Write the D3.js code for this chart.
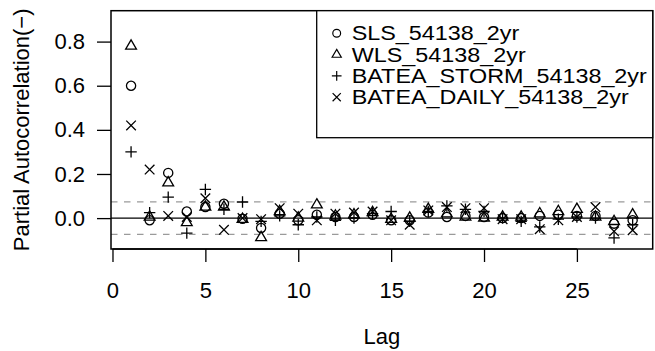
<!DOCTYPE html>
<html>
<head>
<meta charset="utf-8">
<script src="https://cdn.jsdelivr.net/npm/d3@7"></script>
<style>
  body { margin: 0; background: #fff; }
  svg text { font-family: "Liberation Sans", Arial, Helvetica, sans-serif; fill: #000; }
</style>
</head>
<body>
<div id="chart"></div>
<script>
// partial autocorrelation by lag, one array per series
const lags = [1, 2, 3, 4, 5, 6, 7, 8, 9, 10, 11, 12, 13, 14, 15, 16, 17, 18, 19, 20, 21, 22, 23, 24, 25, 26, 27, 28];
const sls = [0.60, -0.01, 0.205, 0.03, 0.05, 0.065, -0.003, -0.045, 0.02, -0.01, 0.015, 0.005, 0.005, 0.015,
  -0.01, -0.01, 0.025, 0.005, 0.01, 0.005, 0.0, 0.0, 0.01, 0.015, 0.01, 0.01, -0.025, -0.01];
const wls = [0.78, 0.005, 0.16, -0.02, 0.05, 0.05, -0.005, -0.088, 0.03, 0.0, 0.06, 0.01, 0.015, 0.025,
  -0.005, 0.0, 0.04, 0.02, 0.005, 0.0, 0.005, 0.005, 0.02, 0.03, 0.04, 0.005, -0.015, 0.015];
const bateaStorm = [0.30, 0.025, 0.095, -0.068, 0.13, 0.04, 0.073, -0.015, 0.01, -0.03, 0.005, -0.01, 0.0, 0.02,
  0.03, -0.015, 0.03, 0.055, 0.04, 0.03, 0.0, -0.015, -0.04, -0.005, 0.005, 0.0, -0.09, -0.03];
const bateaDaily = [0.42, 0.22, 0.01, 0.005, 0.09, -0.053, 0.0, -0.005, 0.045, 0.02, -0.01, 0.02, 0.025, 0.03,
  -0.01, -0.03, 0.035, 0.05, 0.045, 0.045, -0.005, -0.005, -0.05, -0.01, 0.005, 0.05, -0.06, -0.055];

const seriesNames = ["SLS_54138_2yr", "WLS_54138_2yr", "BATEA_STORM_54138_2yr", "BATEA_DAILY_54138_2yr"];
const seriesShapes = ["circle", "triangle", "plus", "cross"];
const xTicks = [0, 5, 10, 15, 20, 25];
const yTicks = [0.0, 0.2, 0.4, 0.6, 0.8];
const confLimit = 0.074;

const width = 655, height = 351;
const box = {left: 111, right: 652.7, top: 10.7, bottom: 249};

const x = d3.scaleLinear().domain([-0.08, 29.08]).range([box.left, box.right]);
const y = d3.scaleLinear().domain([-0.14, 0.94]).range([box.bottom, box.top]);

// R style plotting characters
function shapePath(shape) {
  const p = d3.path();
  if (shape === "circle") {
    p.arc(0, 0, 4.6, 0, 2 * Math.PI);
  } else if (shape === "triangle") {
    p.moveTo(0, -6.2); p.lineTo(5.4, 3.1); p.lineTo(-5.4, 3.1); p.closePath();
  } else if (shape === "plus") {
    p.moveTo(-5.7, 0); p.lineTo(5.7, 0); p.moveTo(0, -5.7); p.lineTo(0, 5.7);
  } else {
    p.moveTo(-4.8, -4.8); p.lineTo(4.8, 4.8); p.moveTo(-4.8, 4.8); p.lineTo(4.8, -4.8);
  }
  return p.toString();
}

const svg = d3.select("#chart").append("svg")
  .attr("width", width)
  .attr("height", height);

// confidence limits and zero line
svg.selectAll(".conf")
  .data([confLimit, -confLimit])
  .enter().append("line")
  .attr("x1", box.left).attr("x2", box.right)
  .attr("y1", d => y(d)).attr("y2", d => y(d))
  .attr("stroke", "#9a9a9a")
  .attr("stroke-width", 1.3)
  .attr("stroke-dasharray", "6.5,6.5");

svg.append("line")
  .attr("x1", box.left).attr("x2", box.right)
  .attr("y1", y(0)).attr("y2", y(0))
  .attr("stroke", "#000")
  .attr("stroke-width", 1.3);

// points
const allSeries = [sls, wls, bateaStorm, bateaDaily];
allSeries.forEach(function (values, i) {
  svg.append("g")
    .selectAll("path")
    .data(lags.map((lag, j) => [lag, values[j]]))
    .enter().append("path")
    .attr("transform", d => "translate(" + x(d[0]) + "," + y(d[1]) + ")")
    .attr("d", shapePath(seriesShapes[i]))
    .attr("fill", "none")
    .attr("stroke", "#000")
    .attr("stroke-width", 1.3);
});

// axes
const xAxis = svg.append("g")
  .attr("transform", "translate(0," + box.bottom + ")")
  .call(d3.axisBottom(x).tickValues(xTicks).tickSize(13).tickPadding(20).tickFormat(d3.format("d")));
xAxis.select(".domain").attr("d", "M" + x(0) + ",0H" + x(25));

const yAxis = svg.append("g")
  .attr("transform", "translate(" + box.left + ",0)")
  .call(d3.axisLeft(y).tickValues(yTicks).tickSize(14).tickPadding(12).tickFormat(d3.format(".1f")));
yAxis.select(".domain").remove();

svg.selectAll(".tick line").attr("stroke", "#000").attr("stroke-width", 1.3);
svg.selectAll(".domain").attr("stroke", "#000").attr("stroke-width", 1.3);
svg.selectAll(".tick text").attr("font-size", 22).attr("font-family", null);

// plot frame
svg.append("rect")
  .attr("x", box.left).attr("y", box.top)
  .attr("width", box.right - box.left).attr("height", box.bottom - box.top)
  .attr("fill", "none").attr("stroke", "#000").attr("stroke-width", 1.5);

// titles
svg.append("text")
  .attr("x", (box.left + box.right) / 2)
  .attr("y", 344)
  .attr("text-anchor", "middle")
  .attr("font-size", 22)
  .text("Lag");

svg.append("text")
  .attr("transform", "translate(29," + (box.top + box.bottom) / 2 + ") rotate(-90)")
  .attr("text-anchor", "middle")
  .attr("font-size", 22)
  .text("Partial Autocorrelation(\u2212)");

// legend
const legend = svg.append("g");
legend.append("rect")
  .attr("x", 316.7).attr("y", box.top)
  .attr("width", box.right - 316.7).attr("height", 137.7 - box.top)
  .attr("fill", "#fff").attr("stroke", "#000").attr("stroke-width", 1.3);

const rows = legend.selectAll(".row")
  .data(seriesNames)
  .enter().append("g")
  .attr("transform", (d, i) => "translate(0," + (33.3 + i * 21.3) + ")");
rows.append("path")
  .attr("transform", "translate(336.7,0) scale(0.85)")
  .attr("d", (d, i) => shapePath(seriesShapes[i]))
  .attr("fill", "none").attr("stroke", "#000").attr("stroke-width", 1.4);
// the reference text is wider than tall, so stretch it a little
rows.append("text")
  .attr("transform", "translate(351.7,0) scale(1.14,1)")
  .attr("dy", "0.35em")
  .attr("font-size", 20.5)
  .text(d => d);
</script>
</body>
</html>
